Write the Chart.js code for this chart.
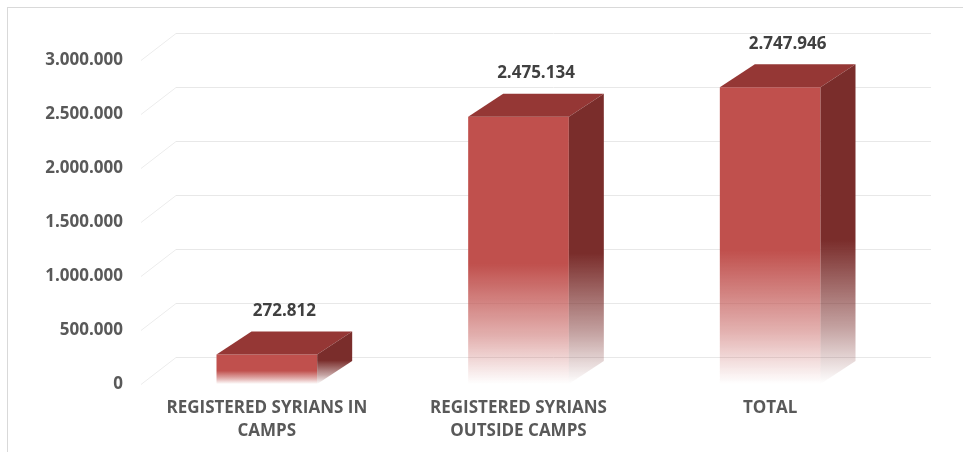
<!DOCTYPE html>
<html lang="en">
<head>
<meta charset="UTF-8">
<title>Registered Syrians</title>
<script src="https://cdn.jsdelivr.net/npm/chart.js"></script>
<style>
    html, body { margin: 0; padding: 0; background: #fff; }
    #wrap { position: relative; width: 963px; height: 452px; }
    #frame { position: absolute; left: 7px; top: 7px; right: 0; bottom: 0;
             border-top: 1px solid #d9d9d9; border-left: 1px solid #d9d9d9; }
</style>
</head>
<body>
<div id="wrap">
    <div id="frame"></div>
    <canvas id="myChart" width="963" height="452"></canvas>
</div>
<script>
// chart data
var categorias = [
    ["REGISTERED SYRIANS IN", "CAMPS"],
    ["REGISTERED SYRIANS", "OUTSIDE CAMPS"],
    ["TOTAL"]
];
var valores = [272812, 2475134, 2747946];
var ticksY = [0, 500000, 1000000, 1500000, 2000000, 2500000, 3000000];

// 3d depth of bars and of the back wall
var prof = { dx: 35, dy: -23 };
var parede = { dx: 35, dy: -27 };

function formatar(n) {
    return String(n).replace(/\B(?=(\d{3})+(?!\d))/g, ".");
}

function gradiente(ctx, topo, base, r, g, b) {
    var gr = ctx.createLinearGradient(0, topo, 0, base);
    gr.addColorStop(0, `rgba(${r},${g},${b},1)`);
    gr.addColorStop(0.55, `rgba(${r},${g},${b},1)`);
    gr.addColorStop(0.82, `rgba(${r},${g},${b},0.45)`);
    gr.addColorStop(1, `rgba(${r},${g},${b},0)`);
    return gr;
}

// back wall grid + left wall diagonals
const paredePlugin = {
    id: 'parede',
    beforeDatasetsDraw(chart) {
        const ctx = chart.ctx;
        const area = chart.chartArea;
        const y = chart.scales.y;
        ctx.save();
        ctx.lineWidth = 1;
        ticksY.forEach(function (v) {
            var py = Math.round(y.getPixelForValue(v)) + 0.5;
            ctx.strokeStyle = '#e8e8e8';
            ctx.beginPath();
            ctx.moveTo(area.left + parede.dx, py + parede.dy);
            ctx.lineTo(area.right + parede.dx, py + parede.dy);
            ctx.stroke();
            ctx.strokeStyle = '#ececec';
            ctx.beginPath();
            ctx.moveTo(area.left, py);
            ctx.lineTo(area.left + parede.dx, py + parede.dy);
            ctx.stroke();
        });
        ctx.restore();
    }
};

// top and side faces + value labels
const cuboPlugin = {
    id: 'cubo',
    afterDatasetsDraw(chart) {
        const ctx = chart.ctx;
        const meta = chart.getDatasetMeta(0);
        ctx.save();
        meta.data.forEach(function (bar, i) {
            const p = bar.getProps(['x', 'y', 'base', 'width'], true);
            const esq = p.x - p.width / 2;
            const dir = p.x + p.width / 2;
            // top face
            ctx.fillStyle = '#953735';
            ctx.beginPath();
            ctx.moveTo(esq, p.y);
            ctx.lineTo(esq + prof.dx, p.y + prof.dy);
            ctx.lineTo(dir + prof.dx, p.y + prof.dy);
            ctx.lineTo(dir, p.y);
            ctx.closePath();
            ctx.fill();
            // side face
            ctx.fillStyle = gradiente(ctx, p.y + prof.dy, p.base, 122, 45, 43);
            ctx.beginPath();
            ctx.moveTo(dir, p.y);
            ctx.lineTo(dir + prof.dx, p.y + prof.dy);
            ctx.lineTo(dir + prof.dx, p.base + prof.dy);
            ctx.lineTo(dir, p.base);
            ctx.closePath();
            ctx.fill();
            // value
            ctx.fillStyle = '#404040';
            ctx.font = 'bold 17px "Open Sans"';
            ctx.textAlign = 'center';
            ctx.textBaseline = 'bottom';
            ctx.fillText(formatar(valores[i]), p.x + prof.dx / 2, p.y + prof.dy - 12);
        });
        ctx.restore();
    }
};

var dados = {
    labels: categorias,
    datasets: [{
        data: valores,
        borderWidth: 0,
        backgroundColor: function (context) {
            const chart = context.chart;
            if (!chart.chartArea) return '#c0504d';
            const y = chart.scales.y;
            const topo = y.getPixelForValue(context.raw);
            const base = y.getPixelForValue(0);
            return gradiente(chart.ctx, topo, base, 192, 80, 77);
        }
    }]
};

const config = {
    type: 'bar',
    data: dados,
    options: {
        responsive: false,
        animation: false,
        barPercentage: 0.4,
        categoryPercentage: 1,
        layout: { padding: { top: 60, right: 67, left: 0, bottom: 0 } },
        plugins: { legend: { display: false }, tooltip: { enabled: false } },
        scales: {
            y: {
                min: 0,
                max: 3000000,
                afterFit: function (s) { s.width = 141; },
                afterBuildTicks: function (s) { s.ticks = ticksY.map(v => ({ value: v })); },
                grid: { display: false, drawTicks: false },
                border: { display: false },
                ticks: {
                    padding: 18,
                    color: '#595959',
                    font: { family: 'Open Sans', weight: 'bold', size: 17 },
                    callback: function (v) { return formatar(v); }
                }
            },
            x: {
                afterFit: function (s) { s.height = 68; },
                grid: { display: false, drawTicks: false },
                border: { display: false },
                ticks: {
                    padding: 13,
                    maxRotation: 0,
                    autoSkip: false,
                    color: '#595959',
                    font: { family: 'Open Sans', weight: 'bold', size: 17, lineHeight: '23px' }
                }
            }
        }
    },
    plugins: [paredePlugin, cuboPlugin]
};

let myChart = new Chart(document.getElementById('myChart'), config);
</script>
</body>
</html>
